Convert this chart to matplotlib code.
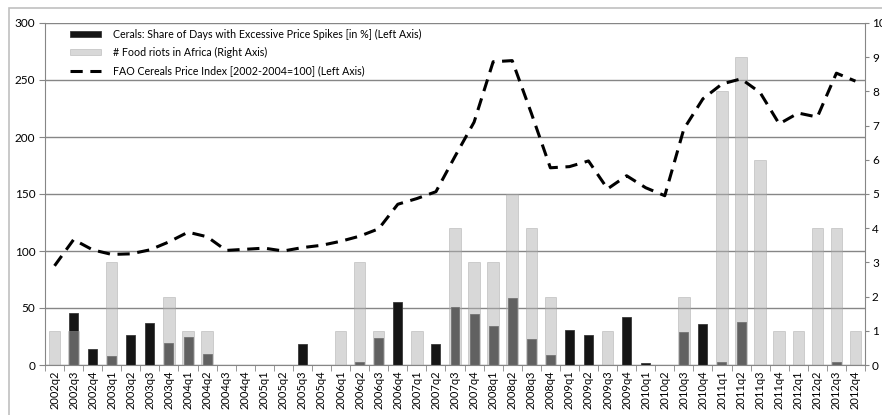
import numpy as np
import matplotlib
matplotlib.use("Agg")
import matplotlib.pyplot as plt
from matplotlib.patches import Rectangle

plt.rcParams['font.family'] = ['Lato', 'DejaVu Sans']

quarters = ['2002q2', '2002q3', '2002q4', '2003q1', '2003q2', '2003q3', '2003q4',
            '2004q1', '2004q2', '2004q3', '2004q4', '2005q1', '2005q2', '2005q3',
            '2005q4', '2006q1', '2006q2', '2006q3', '2006q4', '2007q1', '2007q2',
            '2007q3', '2007q4', '2008q1', '2008q2', '2008q3', '2008q4', '2009q1',
            '2009q2', '2009q3', '2009q4', '2010q1', '2010q2', '2010q3', '2010q4',
            '2011q1', '2011q2', '2011q3', '2011q4', '2012q1', '2012q2', '2012q3',
            '2012q4']

# share of days with excessive price spikes [%] (left axis)
spikes = [0, 46, 14, 8, 26, 37, 19,
          25, 10, 0, 0, 0, 0, 18,
          0, 0, 3, 24, 55, 0, 18,
          51, 45, 34, 59, 23, 9, 31,
          26, 0, 42, 1.5, 0, 29, 36,
          3, 38, 0, 0, 0, 0, 3,
          0]

# number of food riots in Africa (right axis)
riots = [1, 1, 0, 3, 0, 0, 2,
         1, 1, 0, 0, 0, 0, 0,
         0, 1, 3, 1, 0, 1, 0,
         4, 3, 3, 5, 4, 2, 0,
         0, 1, 0, 0, 0, 2, 0,
         8, 9, 6, 1, 1, 4, 4,
         1]

# FAO cereals price index (left axis)
fao = [87, 110, 101, 97, 97.5, 101, 108,
       116.5, 112.5, 100.5, 101.5, 102.5, 100, 103,
       105, 108.5, 113, 119.5, 141, 146, 152,
       183, 213, 266, 267, 221, 173, 174,
       179, 154.5, 166, 155.5, 148.5, 207, 233.5,
       246.5, 251, 239, 211.5, 221, 217.5, 256,
       249]

x = np.arange(len(quarters))

fig = plt.figure(figsize=(8.82, 4.15), dpi=100)
ax = fig.add_axes([45 / 882, 50 / 415, 820 / 882, 342 / 415])
ax2 = ax.twinx()

# outer chart frame
fig.patches.append(Rectangle((9 / 882, -0.1), 1.2, (415 - 8) / 415 + 0.1,
                             transform=fig.transFigure, fill=False,
                             edgecolor='#c0c0c0', linewidth=1.2))

grid_c = '#868686'
ax.set_axisbelow(True)
ax.yaxis.grid(True, color=grid_c, linewidth=1)

b1 = ax.bar(x, spikes, width=0.47, color='#151515', edgecolor='#3a3a3a',
            linewidth=0.6,
            label='Cerals: Share of Days with Excessive Price Spikes [in %] (Left Axis)')
b2 = ax2.bar(x, riots, width=0.6, color='#b1b1b1', alpha=0.49,
             edgecolor='#a0a0a0', linewidth=0.6,
             label='# Food riots in Africa (Right Axis)')
l1, = ax2.plot(x, fao, transform=ax.transData, color='black', linewidth=2.2,
               dashes=(4, 2.5), label='FAO Cereals Price Index [2002-2004=100] (Left Axis)')

ax.set_xlim(-0.5, len(quarters) - 0.5)
ax.set_ylim(0, 300)
ax2.set_ylim(0, 10)
ax.set_yticks(np.arange(0, 301, 50))
ax2.set_yticks(np.arange(0, 11, 1))

ax.set_xticks(x)
ax.set_xticklabels(quarters, rotation=90, fontsize=8)
ax.set_xticks(np.arange(-0.5, len(quarters), 1), minor=True)
ax.tick_params(axis='x', which='major', length=0, pad=4)
ax.tick_params(axis='x', which='minor', length=4, color=grid_c)
ax.tick_params(axis='y', length=4, color=grid_c, labelsize=8.5, pad=3)
ax2.tick_params(axis='y', length=3, color=grid_c, labelsize=8.5, pad=2)

for a in (ax, ax2):
    a.spines['top'].set_visible(False)
    for s in ('left', 'right', 'bottom'):
        a.spines[s].set_color(grid_c)
ax.spines['right'].set_visible(False)
ax2.spines['left'].set_visible(False)
ax2.spines['bottom'].set_visible(False)

ax2.legend(handles=[b1, b2, l1], loc='upper left', bbox_to_anchor=(0.019, 1.012),
           frameon=False, fontsize=7.7, handlelength=2.9, handleheight=0.5,
           handletextpad=1.1, labelspacing=0.7)

fig.savefig('out.png', dpi=100)
